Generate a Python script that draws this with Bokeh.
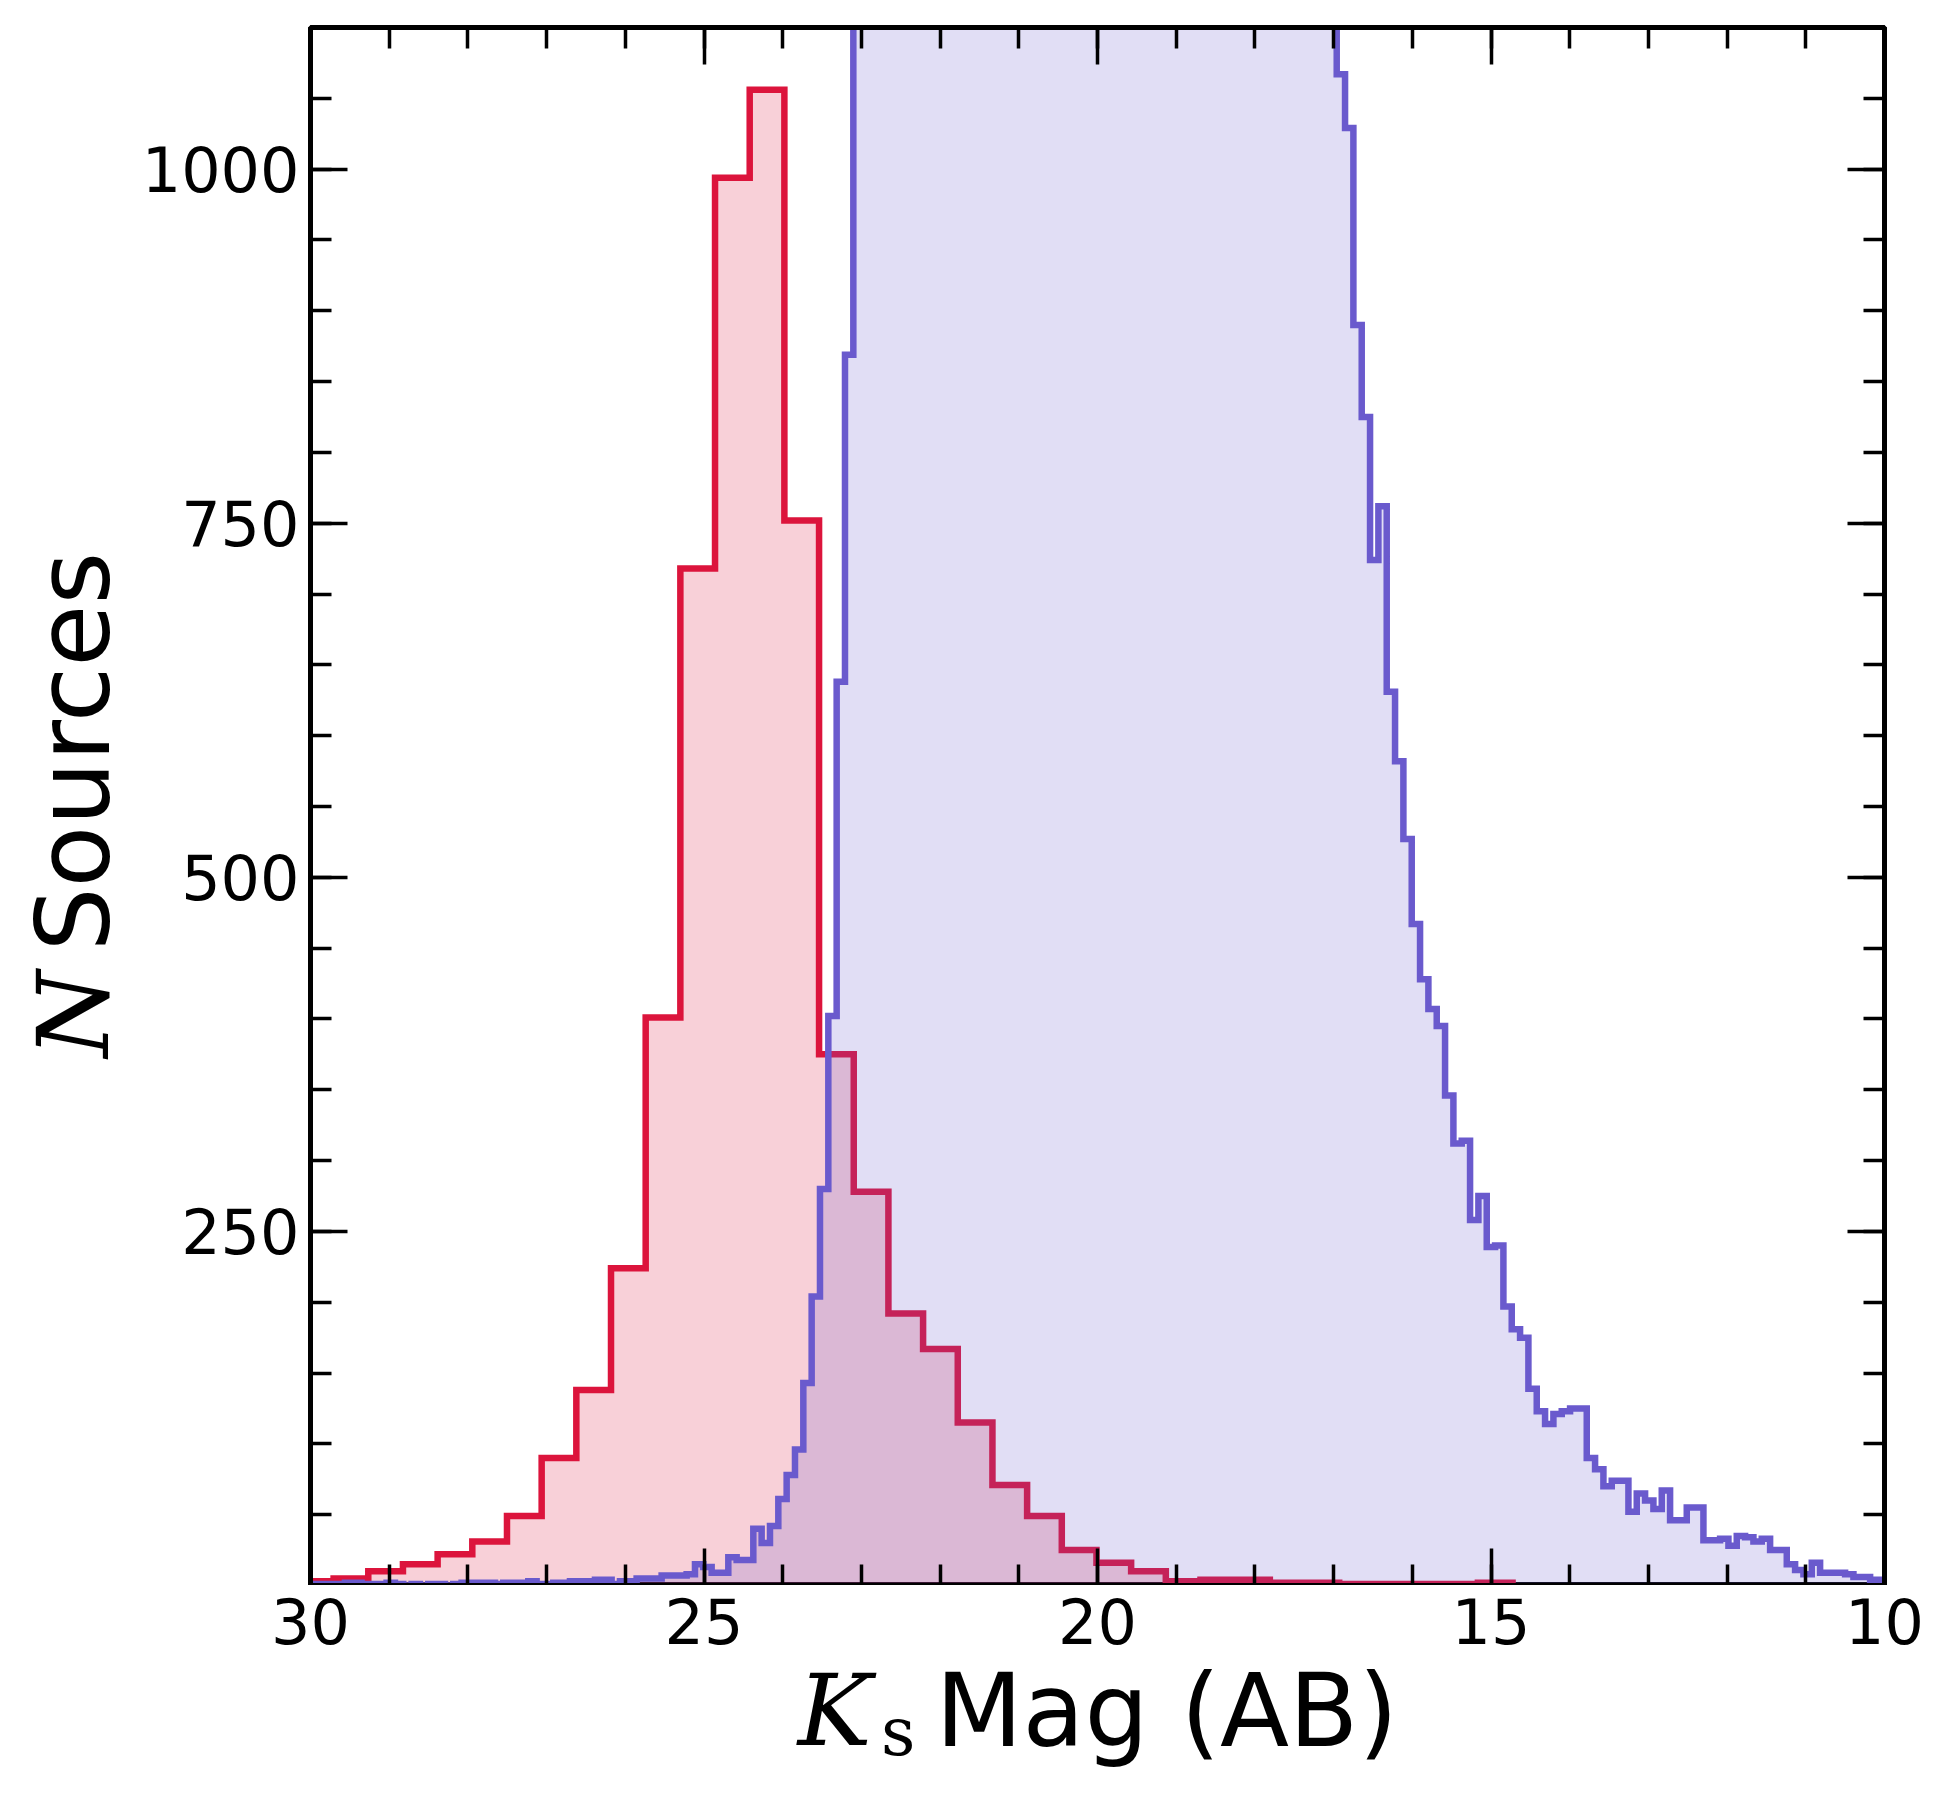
import numpy as np
from bokeh.plotting import figure
from bokeh.layouts import row, column
from bokeh.models import Range1d, FixedTicker, LinearAxis, Label
from bokeh.embed import file_html
from bokeh.resources import INLINE

# ---- histogram data: counts per bin, listed from the faint edge (high mag) to the bright edge ----
red_bin_start = 30.147   # faint edge of the first bin (mag)
red_bin_width = 0.4406
red_counts = [3, 5, 10, 15, 22, 31, 49, 90, 138, 224,
              401, 718, 994, 1056, 752, 375, 278, 192, 167, 115,
              71, 49, 25, 16, 10, 3, 4, 4, 2, 2,
              1, 1, 1, 1, 2]

blue_bin_start = 30.092
blue_bin_width = 0.1059
blue_counts = [1,
               1, 1, 1, 1, 2, 2, 1, 1, 1, 2,
               1, 0, 1, 0, 1, 1, 0, 1, 2, 2,
               2, 2, 1, 2, 2, 2, 3, 1, 1, 2,
               2, 3, 3, 3, 4, 4, 1, 3, 3, 5,
               5, 5, 7, 7, 7, 8, 15, 13, 9, 9,
               20, 18, 18, 40, 30, 42, 61, 78, 96, 143,
               204, 280, 402, 638, 869,
               1180, 1350, 1520, 1690, 1850, 2010, 2160, 2290, 2420, 2530,
               2640, 2730, 2810, 2880, 2940, 2990, 3040, 3070, 3100, 3120,
               3140, 3150, 3160, 3150, 3140, 3120, 3090, 3060, 3020, 2980,
               2930, 2870, 2810, 2750, 2680, 2610, 2530, 2450, 2370, 2290,
               2200, 2120, 2030, 1950, 1870, 1790, 1710, 1640, 1570, 1500,
               1440, 1380, 1330, 1280, 1240, 1200, 1160, 1120,
               1067, 1029, 890, 825, 724, 762, 631, 582, 527, 467,
               428, 407, 395, 346, 312, 314, 258, 275, 239, 240,
               197, 181, 175, 139, 123, 114, 121, 123,
               125, 125, 90, 82, 70, 74, 74, 52, 65, 60,
               54, 67, 46, 46, 55, 55, 32, 32, 33, 28,
               35, 34, 31, 33, 25, 25, 15, 11, 8, 16,
               9, 9, 9, 8, 6, 6, 4, 4]

x_major = [30, 25, 20, 15, 10]
x_minor = list(range(10, 31))
y_major = [250, 500, 750, 1000]
y_minor = list(range(50, 1101, 50))

RED = "#DC143C"
BLUE = "#6A5ACD"
TICK_FONT_SIZE = "62px"

# canvas geometry (pixels)
YLAB_W = 135                  # strip holding the vertical axis title
YLAB_H = 1685
MAIN_W = 1950 - YLAB_W
LEFT_BORDER = 310 - YLAB_W
MAIN_H = 27 + 1558
XLAB_H = 1800 - MAIN_H        # strip holding the x tick labels and the x title
XLAB_TOP = 58                 # band of that strip given to the tick labels


def step_outline(start, width, counts):
    """Closed step outline of a histogram whose bins run from `start` downwards."""
    edges = start - width * np.arange(len(counts) + 1)
    xs = np.repeat(edges, 2)
    ys = np.concatenate([[0], np.repeat(np.asarray(counts, dtype=float), 2), [0]])
    return xs, ys


p = figure(x_range=Range1d(30, 10), y_range=Range1d(0, 1100),
           frame_width=1574, frame_height=1558,
           min_border_left=LEFT_BORDER, min_border_right=66,
           min_border_top=27, min_border_bottom=0,
           output_backend="svg", toolbar_location=None,
           background_fill_color="white", border_fill_color="white")

p.xgrid.visible = False
p.ygrid.visible = False
p.outline_line_color = "black"
p.outline_line_width = 5

# faint population first, bright population drawn over it
for start, width, counts, color in ((red_bin_start, red_bin_width, red_counts, RED),
                                    (blue_bin_start, blue_bin_width, blue_counts, BLUE)):
    xs, ys = step_outline(start, width, counts)
    p.patch(xs, ys, fill_color=color, fill_alpha=0.2, line_color=None)
    p.line(xs, ys, line_color=color, line_width=6.5, line_join="miter")

# mirrored axes on the top and right carry ticks only
p.add_layout(LinearAxis(), "above")
p.add_layout(LinearAxis(), "right")

for ax in p.xaxis:
    ax.ticker = FixedTicker(ticks=x_major, minor_ticks=x_minor)
for ax in p.yaxis:
    ax.ticker = FixedTicker(ticks=y_major, minor_ticks=y_minor)

for ax in p.axis:
    ax.axis_line_color = "black"
    ax.axis_line_width = 5
    ax.major_tick_in = 37
    ax.major_tick_out = 0
    ax.minor_tick_in = 21
    ax.minor_tick_out = 0
    ax.major_tick_line_width = 3.5
    ax.minor_tick_line_width = 3.5
    ax.major_tick_line_color = "black"
    ax.minor_tick_line_color = "black"
    ax.major_label_text_font = "DejaVu Sans"
    ax.major_label_text_color = "black"
    ax.major_label_text_font_size = TICK_FONT_SIZE

# the x tick labels are carried by the strip below; these axes draw ticks only
for ax in (p.above[0], p.right[0], p.below[0]):
    ax.major_label_text_font_size = "0px"
    ax.major_label_text_color = None
    ax.major_label_standoff = 0
p.left[0].major_label_standoff = 11


def title_strip(width, height, x_range, y_range, **borders):
    """Blank figure used to carry axis text."""
    f = figure(width=width, height=height, x_range=x_range, y_range=y_range,
               x_axis_type=None, y_axis_type=None,
               min_border_left=borders.get("left", 0), min_border_right=borders.get("right", 0),
               min_border_top=borders.get("top", 0), min_border_bottom=0,
               output_backend="svg", toolbar_location=None,
               background_fill_color="white", border_fill_color="white")
    f.outline_line_color = None
    f.xgrid.visible = False
    f.ygrid.visible = False
    return f


label_common = dict(text_color="black", text_baseline="alphabetic", text_align="left")

# strip under the plot: x tick labels (shared x range) and the title K_s Mag (AB)
xlab = title_strip(MAIN_W, XLAB_H, p.x_range, Range1d(0, 1),
                   left=LEFT_BORDER, right=66, top=XLAB_TOP)
xticks = LinearAxis(ticker=FixedTicker(ticks=x_major, minor_ticks=[]),
                    axis_line_color=None, major_tick_in=0, major_tick_out=0,
                    minor_tick_in=0, minor_tick_out=0,
                    major_tick_line_color=None, minor_tick_line_color=None,
                    major_label_standoff=0, major_label_text_font="DejaVu Sans",
                    major_label_text_font_size=TICK_FONT_SIZE, major_label_text_color="black")
xlab.add_layout(xticks, "above")

xlab.add_layout(Label(x=23.81, y=90, y_units="screen", text="K", text_font="DejaVu Serif",
                      text_font_style="italic", text_font_size="99px", **label_common))
xlab.add_layout(Label(x=22.75, y=69, y_units="screen", text="s", text_font="DejaVu Serif",
                      text_font_size="67px", **label_common))
xlab.add_layout(Label(x=22.06, y=90, y_units="screen", text="Mag (AB)", text_font="DejaVu Sans",
                      text_font_size="101px", **label_common))

# strip left of the plot: the title N Sources (strip pixels)
ylab = title_strip(YLAB_W, YLAB_H, Range1d(0, YLAB_W), Range1d(0, YLAB_H))
ylab.add_layout(Label(x=73, y=628, angle=np.pi / 2, text="N", text_font="DejaVu Serif",
                      text_font_style="italic", text_font_size="99px", **label_common))
ylab.add_layout(Label(x=73, y=734, angle=np.pi / 2, text="Sources", text_font="DejaVu Sans",
                      text_font_size="101px", **label_common))

layout = row(ylab, column(p, xlab, spacing=0), spacing=0)

open("out.html", "w").write(file_html(layout, INLINE))
